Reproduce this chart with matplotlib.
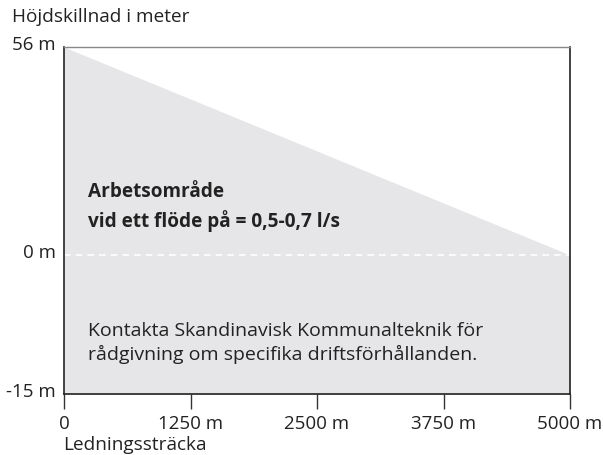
import numpy as np
import matplotlib.pyplot as plt
from matplotlib.transforms import ScaledTranslation

plt.rcParams['font.family'] = ['Open Sans', 'DejaVu Sans']

# Data
distance = [0, 5000]          # m
height_top = [56, 0]          # m, upper edge of working area
height_bottom = -15           # m
x_ticks = [0, 1250, 2500, 3750, 5000]
x_labels = ['0', '1250 m', '2500 m', '3750 m', '5000 m']
y_ticks = [-15, 0, 56]
y_labels = ['-15 m', '0 m', '56 m']

# schematic y-axis: positive and negative parts have different scales
POS, NEG = 208 / 56, 139 / 15


def fwd(y):
    y = np.asarray(y, dtype=float)
    return np.where(y >= 0, y * POS, y * NEG)


def inv(v):
    v = np.asarray(v, dtype=float)
    return np.where(v >= 0, v / POS, v / NEG)


fig = plt.figure(figsize=(6.03, 4.56), dpi=100)
ax = fig.add_axes([64 / 603, 1 - 395 / 456, 506 / 603, 347 / 456])
ax.set_yscale('function', functions=(fwd, inv))

ax.fill_between(distance, height_top, height_bottom, color='#e6e6e8', lw=0)
ax.plot(distance, [0, 0], color='white', lw=1.2, ls=(0, (4, 3)))

ax.set_xlim(0, 5000)
ax.set_ylim(-15, 56)

ax.set_xticks(x_ticks)
ax.set_xticklabels(x_labels)
ax.set_yticks(y_ticks)
ax.set_yticklabels(y_labels)
ax.minorticks_off()
ax.tick_params(axis='x', length=11, width=1, color='#333333', labelsize=13.5,
               labelcolor='#222222', pad=3.5)
ax.tick_params(axis='y', length=0, labelsize=13.5, labelcolor='#222222', pad=6)
for lbl in ax.get_yticklabels():
    lbl.set_transform(lbl.get_transform() + ScaledTranslation(0, 0.05, fig.dpi_scale_trans))

for side in ['left', 'bottom', 'right']:
    ax.spines[side].set_color('#222222')
    ax.spines[side].set_linewidth(1.2)
ax.spines['top'].set_color('#888888')
ax.spines['top'].set_linewidth(1.0)

ax.text(0.047, 0.542, 'Arbetsområde\nvid ett flöde på = 0,5-0,7 l/s',
        transform=ax.transAxes, fontsize=13.7, fontweight='bold',
        color='#222222', va='center', ha='left', linespacing=1.5)
ax.text(0.047, 0.15, 'Kontakta Skandinavisk Kommunalteknik för\n'
        'rådgivning om specifika driftsförhållanden.',
        transform=ax.transAxes, fontsize=14, color='#222222',
        va='center', ha='left', linespacing=1.3)

fig.text(12 / 603, 1 - 17 / 456, 'Höjdskillnad i meter', fontsize=13.7,
         color='#222222', va='center', ha='left')
fig.text(63 / 603, 1 - 445 / 456, 'Ledningssträcka', fontsize=13.7,
         color='#222222', va='center', ha='left')

fig.savefig('out.png', dpi=100)
